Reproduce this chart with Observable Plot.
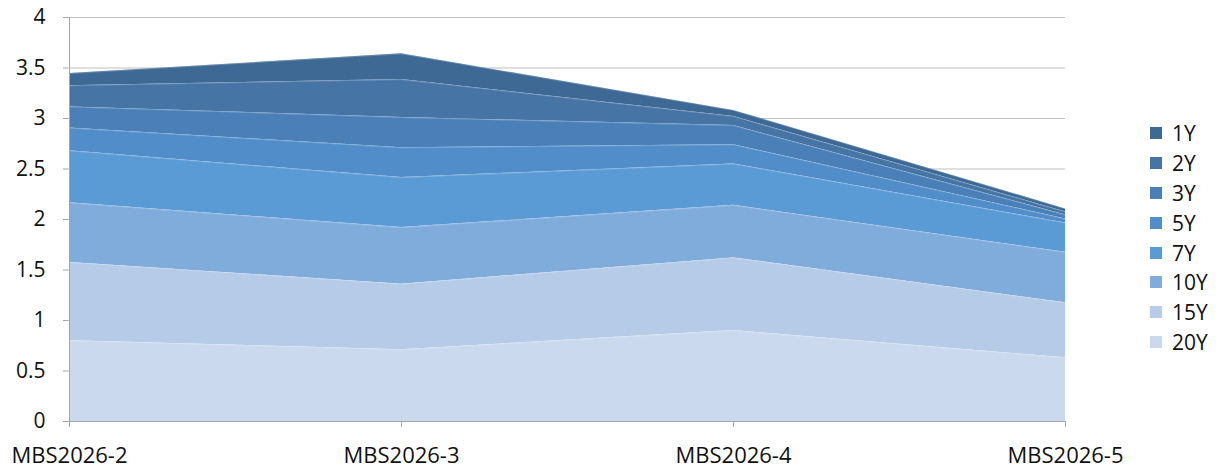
<!DOCTYPE html>
<html>
<head>
<meta charset="utf-8">
<script src="https://cdn.jsdelivr.net/npm/d3@7"></script>
<script src="https://cdn.jsdelivr.net/npm/@observablehq/plot@0.6"></script>
<style>
  body { margin: 0; background: #fff; }
  #wrap { position: relative; width: 1219px; height: 471px; font-family: "Open Sans", sans-serif; }
  #legend { position: absolute; left: 1150px; top: 118px; }
  .item { display: flex; align-items: center; height: 29.9px; font-size: 21px; color: #111; }
  .sw { width: 12px; height: 12px; margin-right: 10px; }
</style>
</head>
<body>
<div id="wrap"><div id="chart"></div><div id="legend"></div></div>
<script>
const categories = ["MBS2026-2", "MBS2026-3", "MBS2026-4", "MBS2026-5"];
const seriesNames = ["1Y", "2Y", "3Y", "5Y", "7Y", "10Y", "15Y", "20Y"];
const seriesColors = ["#3E6994", "#4574A5", "#4A80B7", "#518DC8", "#5B9BD5", "#80ACDC", "#B5CBE7", "#CAD9ED"];
const v1Y  = [0.12, 0.255, 0.06, 0.03];
const v2Y  = [0.21, 0.375, 0.09, 0.03];
const v3Y  = [0.21, 0.30, 0.19, 0.04];
const v5Y  = [0.225, 0.295, 0.19, 0.04];
const v7Y  = [0.515, 0.495, 0.41, 0.29];
const v10Y = [0.59, 0.56, 0.52, 0.50];
const v15Y = [0.775, 0.65, 0.72, 0.545];
const v20Y = [0.80, 0.71, 0.90, 0.63];
const yTicks = [0, 0.5, 1, 1.5, 2, 2.5, 3, 3.5, 4];

const seriesValues = [v1Y, v2Y, v3Y, v5Y, v7Y, v10Y, v15Y, v20Y];
const data = [];
seriesNames.forEach((s, i) => categories.forEach((c, j) => data.push({cat: c, series: s, value: seriesValues[i][j]})));
const bottomFirst = seriesNames.slice().reverse();

const chart = Plot.plot({
  width: 1219,
  height: 471,
  marginLeft: 68,
  marginRight: 154,
  marginTop: 17,
  marginBottom: 50,
  style: {fontFamily: "'Open Sans', sans-serif", fontSize: "21px", color: "#111", background: "#fff"},
  x: {type: "point", domain: categories, padding: 0, label: null},
  y: {domain: [0, 4], ticks: yTicks, label: null},
  color: {domain: seriesNames, range: seriesColors},
  marks: [
    Plot.ruleY(yTicks, {stroke: "#BFBFBF", strokeWidth: 1}),
    Plot.areaY(data, Plot.stackY({x: "cat", y: "value", z: "series", fill: "series", order: bottomFirst})),
    Plot.lineY(data, Plot.stackY2({x: "cat", y: "value", z: "series", order: bottomFirst, stroke: "#ffffff", strokeOpacity: 0.22, strokeWidth: 1})),
    Plot.axisY({ticks: yTicks, tickSize: 5, tickPadding: 18, stroke: "#A6A6A6", tickFormat: d => String(d), fontSize: 21}),
    Plot.ruleX([categories[0]], {stroke: "#A6A6A6"}),
    Plot.axisX({tickSize: 6, tickPadding: 20, stroke: "#A6A6A6", fontSize: 22}),
    Plot.ruleY([0], {stroke: "#A6A6A6"})
  ]
});
document.getElementById("chart").appendChild(chart);

const legend = document.getElementById("legend");
seriesNames.forEach((s, i) => {
  const it = document.createElement("div");
  it.className = "item";
  const sw = document.createElement("div");
  sw.className = "sw";
  sw.style.background = seriesColors[i];
  const t = document.createElement("span");
  t.textContent = s;
  it.appendChild(sw); it.appendChild(t);
  legend.appendChild(it);
});
</script>
</body>
</html>
